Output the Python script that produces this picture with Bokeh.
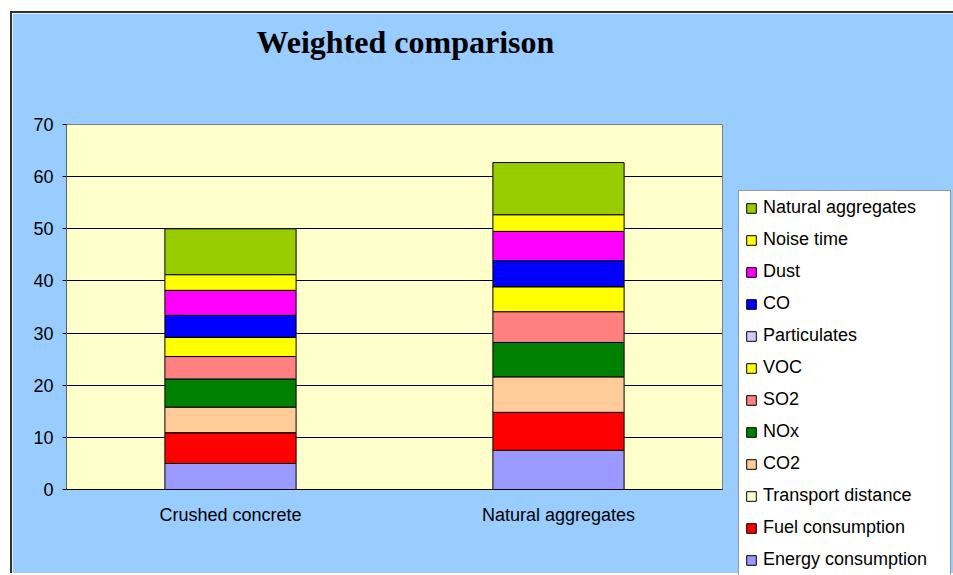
from bokeh.plotting import figure
from bokeh.models import (FactorRange, Range1d, FixedTicker, Legend, LegendItem,
                          Title, ColumnDataSource)
from bokeh.embed import file_html
from bokeh.resources import INLINE

materials = ["Crushed concrete", "Natural aggregates"]
impacts = ["Energy consumption", "Fuel consumption", "Transport distance", "CO2",
           "NOx", "SO2", "VOC", "Particulates", "CO", "Dust", "Noise time",
           "Natural aggregates"]
energy = [5.0, 7.5]
fuel = [5.9, 7.3]
transport = [0.0, 0.0]
co2 = [4.9, 6.8]
nox = [5.4, 6.6]
so2 = [4.3, 5.9]
voc = [3.7, 4.8]
particulates = [0.0, 0.0]
co = [4.2, 5.0]
dust = [4.8, 5.6]
noise = [3.0, 3.2]
natural = [8.8, 10.0]
y_ticks = [0, 10, 20, 30, 40, 50, 60, 70]
colors = ["#9999FF", "#FF0000", "#FFFFCC", "#FFCC99", "#008000", "#FF8080",
          "#FFFF00", "#CCCCFF", "#0000FF", "#FF00FF", "#FFFF00", "#99CC00"]

series = [energy, fuel, transport, co2, nox, so2, voc, particulates, co, dust,
          noise, natural]
data = {"material": materials}
keys = []
for i, s in enumerate(series):
    k = "s%d" % i
    keys.append(k)
    data[k] = s
source = ColumnDataSource(data)

p = figure(x_range=FactorRange(factors=materials), y_range=Range1d(0, 70),
           frame_width=656, frame_height=365,
           output_backend="svg", toolbar_location=None,
           min_border_left=54, min_border_right=231, min_border_top=111,
           min_border_bottom=84, background_fill_color="#FFFFCC",
           border_fill_color="#99CCFF", outline_line_color="#808080",
           outline_line_width=1)
p.styles = {"margin-top": "11px", "margin-left": "10px",
            "vertical-align": "top",
            "border-top": "2px solid #333333",
            "border-left": "2px solid #333333"}

rs = p.vbar_stack(keys, x="material", width=0.4, source=source,
                  fill_color=colors, line_color="black", line_width=1)

p.xgrid.visible = False
p.ygrid.grid_line_color = "black"
p.ygrid.grid_line_width = 1
p.yaxis.ticker = FixedTicker(ticks=y_ticks)
p.yaxis.minor_tick_line_color = None
p.yaxis.major_tick_in = 0
p.yaxis.major_tick_out = 4
p.yaxis.major_tick_line_color = "black"
p.yaxis.axis_line_color = "#606060"
p.yaxis.major_label_standoff = 9
p.yaxis.major_label_text_font = "Liberation Sans"
p.yaxis.major_label_text_font_size = "18px"
p.yaxis.major_label_text_color = "black"

p.xaxis.major_tick_in = 0
p.xaxis.major_tick_out = 0
p.xaxis.axis_line_color = "black"
p.xaxis.major_label_standoff = 15
p.xaxis.major_label_text_font = "Liberation Sans"
p.xaxis.major_label_text_font_size = "18px"
p.xaxis.major_label_text_color = "black"

# blank spacer between plot area and title
spacer = Title(text=" ", standoff=47, text_font_size="10px")
p.add_layout(spacer, "above")

title = Title(text="Weighted comparison", align="left", offset=190,
              text_font="Liberation Serif", text_font_size="32px",
              text_font_style="bold", text_color="black")
p.add_layout(title, "above")

items = [LegendItem(label=impacts[i], renderers=[rs[i]])
         for i in reversed(range(len(impacts)))]
legend = Legend(items=items, location=(16, -88), orientation="vertical",
                padding=6, spacing=11, margin=0, glyph_width=12, glyph_height=12,
                label_standoff=6, label_width=181, label_height=20,
                label_text_font="Liberation Sans", label_text_font_size="18px",
                label_text_color="black", border_line_color="#333333",
                border_line_width=1, background_fill_color="white",
                background_fill_alpha=1)
p.add_layout(legend, "right")

open("out.html", "w").write(file_html(p, INLINE))
